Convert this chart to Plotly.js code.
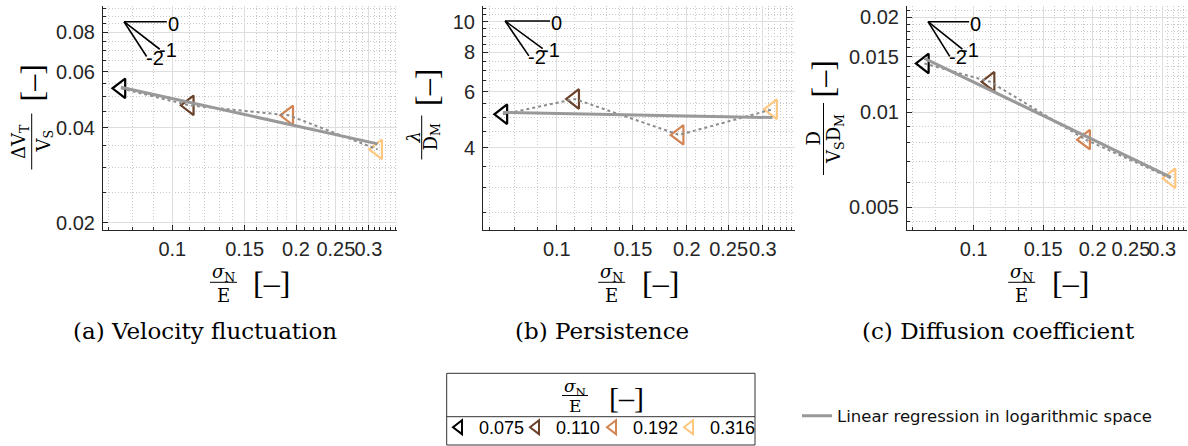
<!DOCTYPE html>
<html><head><meta charset="utf-8">
<script src="https://cdn.plot.ly/plotly-3.0.1.min.js"></script>
<style>html,body{margin:0;padding:0;background:#fff;} #chart{width:1188px;height:446px;}</style>
</head><body><div id="chart"></div>
<script>
// ---------------- data ----------------
const sigmaN = [0.075, 0.110, 0.192, 0.316];
const sigmaLabels = ['0.075', '0.110', '0.192', '0.316'];
const markerColors = ['#000000', '#694229', '#d38454', '#ffc77f'];
const velocityFluct = [0.0532, 0.0470, 0.0437, 0.0341];
const persistence = [5.10, 5.70, 4.39, 5.29];
const diffusion = [0.01428, 0.01250, 0.00819, 0.00618];
// regression lines (log space), values read at first / last sigmaN
const fitX = [0.075, 0.316];
const fitVelocity = [0.0536, 0.0355];
const fitPersistence = [5.17, 4.98];
const fitDiffusion = [0.01483, 0.00622];
// ticks
const xTickVals = [0.1, 0.15, 0.2, 0.25, 0.3];
const xTickText = ['0.1', '0.15', '0.2', '0.25', '0.3'];
const xMinorVals = [0.07,0.08,0.09,0.11,0.12,0.13,0.14,0.16,0.17,0.18,0.19,0.21,0.22,0.23,0.24,0.26,0.27,0.28,0.29,0.31,0.32,0.33,0.34,0.35];
const yTickValsA = [0.02, 0.04, 0.06, 0.08];
const yTickTextA = ['0.02', '0.04', '0.06', '0.08'];
const yMinorValsA = [0.025,0.03,0.035,0.045,0.05,0.055,0.065,0.07,0.075,0.085,0.09,0.095];
const yTickValsB = [4, 6, 8, 10];
const yTickTextB = ['4', '6', '8', '10'];
const yMinorValsB = [2.5,3,3.5,4.5,5,5.5,6.5,7,7.5,8.5,9,9.5,10.5,11];
const yTickValsC = [0.005, 0.01, 0.015, 0.02];
const yTickTextC = ['0.005', '0.01', '0.015', '0.02'];
const yMinorValsC = [0.0045,0.006,0.007,0.008,0.009,0.011,0.012,0.013,0.014,0.016,0.017,0.018,0.019,0.021];
// slope guide (log-log slopes)
const slopeValues = [0, -1, -2];
const slopeLabels = ['0', '-1', '-2'];
const captions = ['(a) Velocity fluctuation', '(b) Persistence', '(c) Diffusion coefficient'];
const regressionName = 'Linear regression in logarithmic space';

// ---------------- layout helpers ----------------
const W = 1188, H = 446;
const SANS = 'Liberation Sans, Arial, sans-serif';
const SERIF = 'DejaVu Serif, serif';
const px = x => x / W;
const py = y => 1 - y / H;
const AXC = '#262626';

const slopeRun = [0.104, 0.087, 0.055];
const panels = [
  {xa:'x',  ya:'y',  vals: velocityFluct, fit: fitVelocity,
   xdom:[103,397], xr:[-1.1686,-0.4533], yr:[-1.7205,-1.0137],
   yt:[yTickValsA,yTickTextA,yMinorValsA], origin:[0.0763,0.0864],
   fracX:223.5, brX:271.5, cap:205},
  {xa:'x2', ya:'y2', vals: persistence, fit: fitPersistence,
   xdom:[483,795], xr:[-1.171,-0.4484], yr:[0.3436,1.0496],
   yt:[yTickValsB,yTickTextB,yMinorValsB], origin:[0.0759,10.05],
   fracX:611.7, brX:660, cap:601.7},
  {xa:'x3', ya:'y3', vals: diffusion, fit: fitDiffusion,
   xdom:[907,1187], xr:[-1.169,-0.460], yr:[-2.3713,-1.6632],
   yt:[yTickValsC,yTickTextC,yMinorValsC], origin:[0.0766,0.01937],
   fracX:1021.7, brX:1070.7, cap:998.3}
];

const traces = [];
const annotations = [];
const shapes = [];
const layout = {
  width: W, height: H, margin:{l:0,r:0,t:0,b:0},
  paper_bgcolor:'#fff', plot_bgcolor:'#fff', showlegend:true,
  font:{family:SANS, color:'#000'}
};

panels.forEach((p, pi) => {
  const n = pi === 0 ? '' : String(pi + 1);
  layout['xaxis' + n] = {
    type:'log', domain:[px(p.xdom[0]), px(p.xdom[1])], range:p.xr, anchor:p.ya,
    tickmode:'array', tickvals:xTickVals, ticktext:xTickText, tickangle:0,
    ticks:'inside', ticklen:5, tickwidth:1, tickcolor:AXC,
    showline:true, linecolor:AXC, linewidth:1, mirror:false, zeroline:false,
    showgrid:true, gridcolor:'#dedede', gridwidth:1,
    tickfont:{family:SANS, size:20, color:AXC}, ticklabelstandoff:1,
    minor:{tickmode:'array', tickvals:xMinorVals, ticks:'inside', ticklen:3, tickcolor:AXC,
           showgrid:true, gridcolor:'#c9c9c9', griddash:'1px,2px', gridwidth:1},
    fixedrange:true
  };
  layout['yaxis' + n] = {
    type:'log', domain:[py(229.5), py(6)], range:p.yr, anchor:p.xa,
    tickmode:'array', tickvals:p.yt[0], ticktext:p.yt[1],
    ticks:'inside', ticklen:5, tickwidth:1, tickcolor:AXC,
    showline:true, linecolor:AXC, linewidth:1, mirror:false, zeroline:false,
    showgrid:true, gridcolor:'#dedede', gridwidth:1,
    tickfont:{family:SANS, size:20, color:AXC}, ticklabelstandoff:3,
    minor:{tickmode:'array', tickvals:p.yt[2], ticks:'inside', ticklen:3, tickcolor:AXC,
           showgrid:true, gridcolor:'#c9c9c9', griddash:'1px,2px', gridwidth:1},
    fixedrange:true
  };

  // markers
  sigmaN.forEach((s, i) => {
    traces.push({
      x:[s], y:[p.vals[i]], xaxis:p.xa, yaxis:p.ya, mode:'markers', name:sigmaLabels[i],
      legend:'legend', showlegend: pi === 0, hoverinfo:'skip',
      marker:{symbol:'triangle-left-open', size:17, color:markerColors[i], line:{width:2.2, color:markerColors[i]}}
    });
  });
  // dotted connection
  traces.push({x:sigmaN, y:p.vals, xaxis:p.xa, yaxis:p.ya, mode:'lines', showlegend:false,
    hoverinfo:'skip', line:{color:'#8c8c8c', width:2, dash:'dot'}});
  // regression
  traces.push({x:fitX, y:p.fit, xaxis:p.xa, yaxis:p.ya, mode:'lines', name:regressionName,
    legend:'legend2', showlegend: pi === 0, hoverinfo:'skip', line:{color:'#999999', width:3}});

  // slope guides
  slopeValues.forEach((s, k) => {
    const x1 = p.origin[0] * Math.pow(10, slopeRun[k]);
    const y1 = p.origin[1] * Math.pow(10, s * slopeRun[k]);
    traces.push({x:[p.origin[0], x1], y:[p.origin[1], y1], xaxis:p.xa, yaxis:p.ya, mode:'lines',
      showlegend:false, hoverinfo:'skip', line:{color:'#000', width:1.6}});
    annotations.push({xref:p.xa, yref:p.ya, x:Math.log10(x1), y:Math.log10(y1), text:slopeLabels[k],
      showarrow:false, xanchor:'left', yanchor:'middle', xshift: k === 0 ? -1 : -3, yshift: k === 0 ? -2 : -1,
      font:{family:SANS, size:20, color:'#000'}});
  });

  // x-axis title: sigma_N / E [-]
  annotations.push({xref:'paper', yref:'paper', x:px(p.fracX), y:py(273), text:'<i>σ</i><sub>N</sub>',
    showarrow:false, xanchor:'center', yanchor:'middle', font:{family:SERIF, size:18, color:'#000'}});
  annotations.push({xref:'paper', yref:'paper', x:px(p.fracX), y:py(295), text:'E',
    showarrow:false, xanchor:'center', yanchor:'middle', font:{family:SERIF, size:18, color:'#000'}});
  shapes.push({type:'line', xref:'paper', yref:'paper', x0:px(p.fracX-13.5), x1:px(p.fracX+13.5),
    y0:py(282.3), y1:py(282.3), line:{color:'#000', width:1}});
  annotations.push({xref:'paper', yref:'paper', x:px(p.brX), y:py(283), text:'[–]',
    showarrow:false, xanchor:'center', yanchor:'middle', font:{family:'Liberation Serif, serif', size:32, color:'#000'}});
  // caption
  annotations.push({xref:'paper', yref:'paper', x:px(p.cap), y:py(331), text:captions[pi],
    showarrow:false, xanchor:'center', yanchor:'middle', font:{family:SERIF, size:23, color:'#000'}});
});

// spacer entry so the last legend label is not clipped by the legend box
traces.push({x:[null], y:[null], xaxis:'x', yaxis:'y', mode:'markers', name:' ', legend:'legend',
  showlegend:true, hoverinfo:'skip', marker:{color:'rgba(0,0,0,0)', size:1, line:{width:0}}});

// y-axis titles (rotated fractions)
const yTitles = [
  {num:'ΔV<sub>T</sub>', den:'V<sub>S</sub>', nx:19.5, dx:44, bx:31.7, yc:141.5, half:28, brx:31, bry:83.5},
  {num:'<i>λ</i>', den:'D<sub>M</sub>', nx:413, dx:432, bx:421.7, yc:137.5, half:22, brx:427, bry:88},
  {num:'D', den:'V<sub>S</sub>D<sub>M</sub>', nx:812.5, dx:835, bx:823.5, yc:139, half:36, brx:822, bry:79.5}
];
yTitles.forEach(t => {
  annotations.push({xref:'paper', yref:'paper', x:px(t.nx), y:py(t.yc), text:t.num, textangle:-90,
    showarrow:false, xanchor:'center', yanchor:'middle', font:{family:SERIF, size:18, color:'#000'}});
  annotations.push({xref:'paper', yref:'paper', x:px(t.dx), y:py(t.yc), text:t.den, textangle:-90,
    showarrow:false, xanchor:'center', yanchor:'middle', font:{family:SERIF, size:18, color:'#000'}});
  shapes.push({type:'line', xref:'paper', yref:'paper', x0:px(t.bx), x1:px(t.bx),
    y0:py(t.yc-t.half), y1:py(t.yc+t.half), line:{color:'#000', width:1}});
  annotations.push({xref:'paper', yref:'paper', x:px(t.brx), y:py(t.bry), text:'[–]', textangle:-90,
    showarrow:false, xanchor:'center', yanchor:'middle', font:{family:'Liberation Serif, serif', size:32, color:'#000'}});
});

// legend box for sigma_N/E
shapes.push({type:'rect', xref:'paper', yref:'paper', x0:px(446.7), x1:px(755), y0:py(373.3), y1:py(445),
  line:{color:'#333', width:1}, fillcolor:'rgba(0,0,0,0)'});
shapes.push({type:'line', xref:'paper', yref:'paper', x0:px(446.7), x1:px(755), y0:py(416.7), y1:py(416.7),
  line:{color:'#333', width:1}});
annotations.push({xref:'paper', yref:'paper', x:px(575), y:py(387), text:'<i>σ</i><sub>N</sub>',
  showarrow:false, xanchor:'center', yanchor:'middle', font:{family:SERIF, size:17, color:'#000'}});
annotations.push({xref:'paper', yref:'paper', x:px(575), y:py(406), text:'E',
  showarrow:false, xanchor:'center', yanchor:'middle', font:{family:SERIF, size:17, color:'#000'}});
shapes.push({type:'line', xref:'paper', yref:'paper', x0:px(562), x1:px(588), y0:py(395.5), y1:py(395.5),
  line:{color:'#000', width:1}});
annotations.push({xref:'paper', yref:'paper', x:px(626), y:py(397), text:'[–]',
  showarrow:false, xanchor:'center', yanchor:'middle', font:{family:'Liberation Serif, serif', size:30, color:'#000'}});

layout.annotations = annotations;
layout.shapes = shapes;
layout.legend = {orientation:'h', x:px(439), y:0, xanchor:'left', yanchor:'bottom',
  bgcolor:'rgba(0,0,0,0)', borderwidth:0, itemsizing:'constant', entrywidth:32,
  font:{family:SANS, size:18, color:'#000'}, traceorder:'normal', itemclick:false, itemdoubleclick:false};
layout.legend2 = {orientation:'h', x:px(797), y:py(416), xanchor:'left', yanchor:'middle',
  bgcolor:'rgba(0,0,0,0)', borderwidth:0,
  font:{family:'DejaVu Sans, sans-serif', size:16.5, color:'#111'}, itemclick:false, itemdoubleclick:false};

Plotly.newPlot('chart', traces, layout, {staticPlot:true, displayModeBar:false});
</script>
</body></html>
